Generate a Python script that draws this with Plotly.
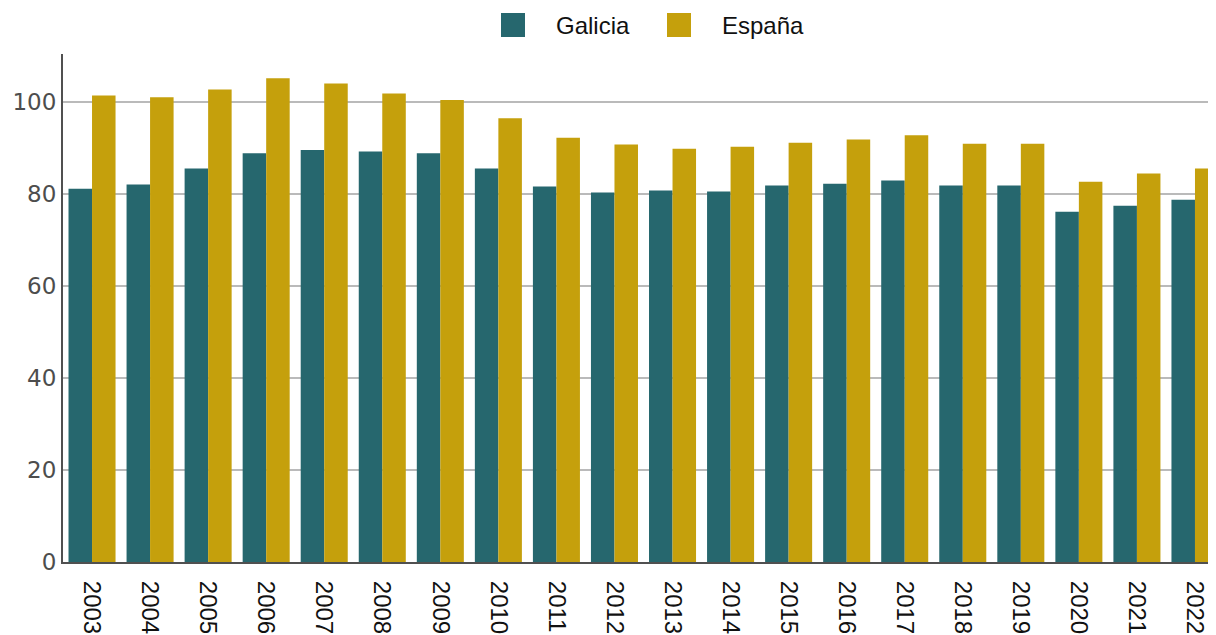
import plotly.graph_objects as go

years = [str(y) for y in range(2003, 2023)]
galicia = [81.2, 82.1, 85.6, 88.9, 89.6, 89.3, 88.9, 85.6, 81.7, 80.4,
           80.8, 80.6, 81.9, 82.3, 83.0, 81.9, 81.9, 76.2, 77.5, 78.8]
espana = [101.5, 101.1, 102.8, 105.2, 104.1, 101.9, 100.5, 96.5, 92.3, 90.8,
          89.9, 90.3, 91.2, 91.9, 92.8, 91.0, 91.0, 82.7, 84.5, 85.6]
series_names = ["Galicia", "España"]
series_colors = ["#26676e", "#c5a00c"]

fig = go.Figure()
for name, vals, col in zip(series_names, [galicia, espana], series_colors):
    fig.add_trace(go.Bar(x=years, y=vals, name=name, marker_color=col,
                         marker_line_width=0, showlegend=False))

# manual legend (large square swatches), paper coords relative to plot area
PW, PH = 1161, 508
legend_px = [501 - 63, 667 - 63]
for name, col, lx in zip(series_names, series_colors, legend_px):
    fig.add_shape(type="rect", xref="paper", yref="paper",
                  x0=lx / PW, x1=(lx + 24) / PW, y0=1 + 17 / PH, y1=1 + 41 / PH,
                  fillcolor=col, line_width=0)
    fig.add_annotation(text=name, xref="paper", yref="paper",
                       x=(lx + 53) / PW, y=1 + 29 / PH, xanchor="left", yanchor="middle",
                       showarrow=False,
                       font=dict(family="Liberation Sans, Arial", size=24, color="#111"))

fig.update_layout(
    width=1216, height=635,
    margin=dict(l=55, r=0, t=46, b=81),
    plot_bgcolor="white", paper_bgcolor="white",
    barmode="group", bargap=0.19, bargroupgap=0,
    showlegend=False,
)
fig.update_xaxes(
    type="category", range=[-0.5, 19.5],
    tickangle=90, showgrid=False,
    showline=True, linecolor="#505050", linewidth=2,
    ticks="", ticklabelstandoff=12,
    tickfont=dict(family="Liberation Sans, Arial", size=24, color="#111"),
)
fig.update_yaxes(
    range=[0, 110.5], tickvals=[0, 20, 40, 60, 80, 100],
    showgrid=True, gridcolor="#bababa", gridwidth=2,
    showline=True, linecolor="#505050", linewidth=2,
    zeroline=False, ticks="", ticklabelstandoff=0,
    tickfont=dict(family="DejaVu Sans", size=23, color="#4d4d4d"),
)

fig.write_html("out.html")
